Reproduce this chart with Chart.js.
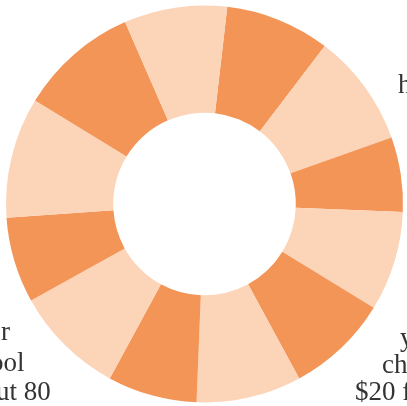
<!DOCTYPE html>
<html>
<head>
<meta charset="utf-8">
<script src="https://cdn.jsdelivr.net/npm/chart.js@4"></script>
<style>
  html,body{margin:0;padding:0;background:#fff;overflow:hidden;width:407px;height:406px;}
  #wrap{position:relative;width:407px;height:406px;}
  canvas{position:absolute;left:0;top:0;}
  .t{position:absolute;font-family:"Liberation Serif",serif;font-size:27px;color:#333;white-space:nowrap;line-height:1;}
</style>
</head>
<body>
<div id="wrap">
  <canvas id="ring" width="407" height="406"></canvas>
</div>
<script>
// ring segments, clockwise from the top-right dark slice (degrees of arc)
const segLabels=['1','2','3','4','5','6','7','8','9','10','11','12'];
const segValues=[30.7,33.1,21.9,29.2,30.0,30.8,26.2,32.4,25.1,35.4,35.0,30.2];
const segShade=['dark','light','dark','light','dark','light','dark','light','dark','light','dark','light'];

// clipped text fragments at the edges of the picture
const leftLines=['r','ool','ut 80'];
const rightLines=['h','y','ch','$20 f'];

const DARK='#f39557',LIGHT='#fcd4b8';

new Chart(document.getElementById('ring'),{
  type:'doughnut',
  data:{labels:segLabels,datasets:[{
    data:segValues,
    backgroundColor:segShade.map(s=>s==='dark'?DARK:LIGHT),
    borderWidth:0,
    hoverOffset:0
  }]},
  options:{
    responsive:false,
    animation:false,
    rotation:6.6,
    cutout:'46%',
    layout:{padding:{top:5,bottom:3,left:6,right:4}},
    plugins:{legend:{display:false},tooltip:{enabled:false}}
  }
});

// place text pieces
const wrap=document.getElementById('wrap');
function addText(txt,x,baseline,alignRight){
  const d=document.createElement('div');
  d.className='t';d.textContent=txt;
  wrap.appendChild(d);
  const asc=24;
  d.style.top=(baseline-asc)+'px';
  if(alignRight){d.style.left=(x-d.offsetWidth)+'px';}
  else d.style.left=x+'px';
}
const leftRight=[10,25,51],leftBase=[342,373,402];
leftLines.forEach((s,i)=>addText(s,leftRight[i],leftBase[i],true));
const rightX=[398,400,382,355],rightBase=[95,348,375,402];
rightLines.forEach((s,i)=>addText(s,rightX[i],rightBase[i],false));
</script>
</body>
</html>
